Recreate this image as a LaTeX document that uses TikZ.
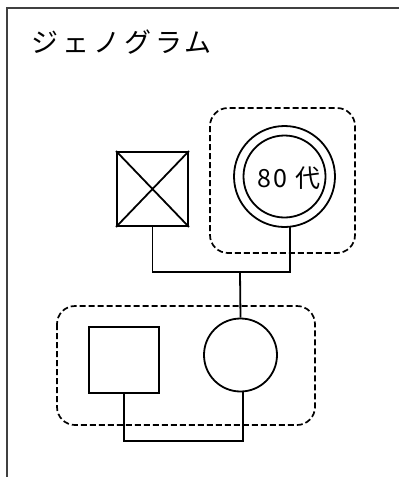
\documentclass[tikz,border=0pt]{standalone}
\usepackage{fontspec}
\setmainfont{Noto Sans CJK JP}
\begin{document}
\begin{tikzpicture}[x=1pt,y=-1pt,
  line width=1.8pt,
  grp/.style={draw,line width=1.7pt,dash pattern=on 6pt off 3pt,rounded corners=18pt},
  sq/.style={draw,rectangle,minimum width=#1,minimum height=#1,inner sep=0pt},
  circ/.style={draw,circle,minimum size=#1,inner sep=0pt}]
\useasboundingbox (0,0) rectangle (399,477);
\draw[line width=1.8pt,black!75] (7,477) -- (7,8) -- (399,8);
\node[anchor=west,inner sep=0pt,font=\fontsize{27}{32}\selectfont\addfontfeature{LetterSpace=14}] (title) at (31,42) {ジェノグラム};
% groups
\draw[grp] (210,108) rectangle (355,253);
\draw[grp] (57,306) rectangle (315,425);
% top generation
\node[sq=71pt,minimum height=74pt] (gf) at (152.5,189) {};
\draw (gf.north west) -- (gf.south east) (gf.north east) -- (gf.south west);
\node[circ=101pt] (gm) at (284.5,176.5) {};
\node[circ=82pt] (gmi) at (284.5,176.5) {};
\node[inner sep=0pt,font=\fontsize{25}{30}\selectfont\addfontfeature{LetterSpace=10}] (age) at (289,178) {80 代};
% bottom generation
\node[sq=70pt,minimum height=66pt] (fa) at (124,360) {};
\node[circ=73pt] (mo) at (240.5,355) {};
% connectors
\coordinate (gmb) at (290,226);
\coordinate (j1) at (240,272);
\draw (gf.south) |- (j1) -| (gmb);
\draw (j1) -- (mo.north);
\coordinate (mob) at (243,391);
\draw (fa.south) |- (183,441) -| (mob);
\end{tikzpicture}
\end{document}
